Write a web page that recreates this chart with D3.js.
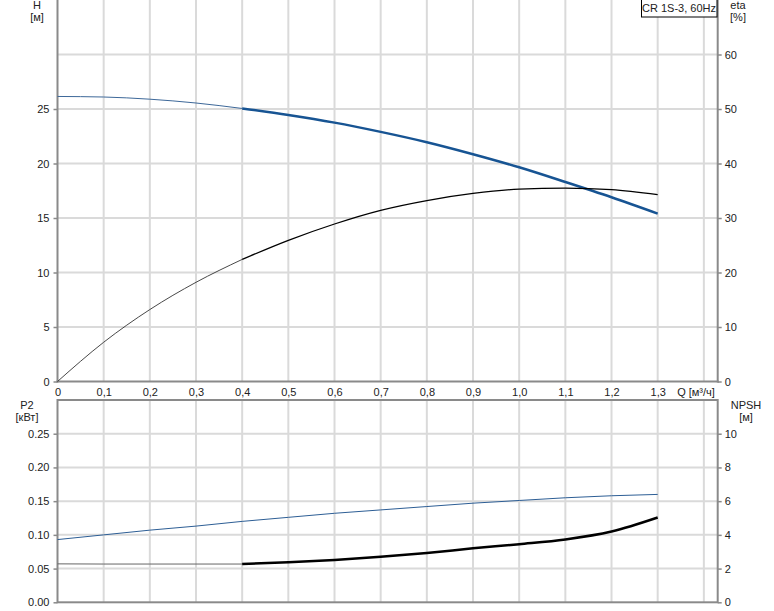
<!DOCTYPE html>
<html><head><meta charset="utf-8">
<script src="https://cdn.jsdelivr.net/npm/d3@7"></script>
<style>body{margin:0;background:#fff}svg{display:block;font-family:"Liberation Sans",Arial,sans-serif}</style>
</head><body><svg id="c" width="774" height="611"></svg>
<script>
// data
const flowQ = [0,0.1,0.2,0.3,0.4,0.5,0.6,0.7,0.8,0.9,1.0,1.1,1.2,1.3];
const headH = [26.15,26.1,25.9,25.55,25.05,24.45,23.75,22.9,21.95,20.85,19.65,18.3,16.9,15.4];
const effEta = [0,7.2,13.2,18.2,22.4,25.9,28.9,31.4,33.2,34.5,35.3,35.5,35.2,34.3];
const powerP2 = [0.093,0.1,0.107,0.113,0.12,0.126,0.132,0.137,0.142,0.147,0.151,0.155,0.158,0.16];
const npshR = [2.28,2.27,2.27,2.27,2.27,2.37,2.51,2.7,2.93,3.2,3.45,3.73,4.2,5.03];
const xTicks = [0,0.1,0.2,0.3,0.4,0.5,0.6,0.7,0.8,0.9,1.0,1.1,1.2,1.3];
const xGrid = [0.1,0.2,0.3,0.4,0.5,0.6,0.7,0.8,0.9,1.0,1.1,1.2,1.3,1.4];
const hTicks = [0,5,10,15,20,25];
const hGrid = [5,10,15,20,25,30];
const etaTicks = [0,10,20,30,40,50,60];
const p2Ticks = [0,0.05,0.10,0.15,0.20,0.25];
const npshTicks = [0,2,4,6,8,10];
const opStart = 0.4;
const title = "CR 1S-3, 60Hz";

const svg = d3.select("#c");
const L = 57.5, R = 717.7;
const x = d3.scaleLinear().domain([0,1.43]).range([L,R]);
const yH = d3.scaleLinear().domain([0,35]).range([381.5,0]);
const yE = d3.scaleLinear().domain([0,70]).range([381.5,0]);
const yP = d3.scaleLinear().domain([0,0.30]).range([602.3,400]);
const yN = d3.scaleLinear().domain([0,12]).range([602.3,400]);
const txt = "#222", grid = "#dadada", axc = "#8a8a8a";

// gridlines
const g = svg.append("g");
xGrid.forEach(q=>{
  g.append("line").attr("x1",x(q)).attr("x2",x(q)).attr("y1",0).attr("y2",381.5).attr("stroke",grid).attr("stroke-width",2);
  g.append("line").attr("x1",x(q)).attr("x2",x(q)).attr("y1",400).attr("y2",602.3).attr("stroke",grid).attr("stroke-width",2);
});
hGrid.forEach(v=>g.append("line").attr("x1",L).attr("x2",R).attr("y1",yH(v)).attr("y2",yH(v)).attr("stroke",grid).attr("stroke-width",2));
p2Ticks.slice(1).forEach(v=>g.append("line").attr("x1",L).attr("x2",R).attr("y1",yP(v)).attr("y2",yP(v)).attr("stroke",grid).attr("stroke-width",2));

// axes
function styleAxis(sel){
  sel.select(".domain").remove();
  sel.selectAll(".tick line").attr("stroke",axc).attr("stroke-width",1.5);
  sel.selectAll(".tick text").attr("fill",txt).attr("font-size",11).attr("font-family","Liberation Sans, Arial, sans-serif");
}
svg.append("g").attr("transform",`translate(${L},0)`).call(d3.axisLeft(yH).tickValues(hTicks).tickSize(4).tickPadding(4).tickFormat(d3.format("d"))).call(styleAxis);
svg.append("g").attr("transform",`translate(${R},0)`).call(d3.axisRight(yE).tickValues(etaTicks).tickSize(4).tickPadding(3).tickFormat(d3.format("d"))).call(styleAxis);
svg.append("g").attr("transform",`translate(${L},0)`).call(d3.axisLeft(yP).tickValues(p2Ticks).tickSize(4).tickPadding(4).tickFormat(d3.format(".2f"))).call(styleAxis);
svg.append("g").attr("transform",`translate(${R},0)`).call(d3.axisRight(yN).tickValues(npshTicks).tickSize(4).tickPadding(3).tickFormat(d3.format("d"))).call(styleAxis);
const xa = svg.append("g").attr("transform",`translate(0,381.5)`).call(d3.axisBottom(x).tickValues(xTicks).tickSize(0).tickPadding(7).tickFormat(d=>d3.format(".1f")(d).replace(".",",").replace(/^0,0$/,"0")));
styleAxis(xa);

// axis lines
const a = svg.append("g").attr("stroke",axc).attr("stroke-width",2);
a.append("line").attr("x1",L).attr("x2",L).attr("y1",0).attr("y2",382.5);
a.append("line").attr("x1",R).attr("x2",R).attr("y1",0).attr("y2",382.5);
a.append("line").attr("x1",L-1).attr("x2",R+1).attr("y1",381.5).attr("y2",381.5);
a.append("rect").attr("x",L).attr("y",400).attr("width",R-L).attr("height",202.3).attr("fill","none");

// labels
function t(s,xx,yy,anchor){svg.append("text").attr("x",xx).attr("y",yy).attr("text-anchor",anchor||"middle").attr("dominant-baseline","central").attr("font-size",11).attr("fill",txt).text(s);}
t("H",37,5); t("[м]",37,17);
t("eta",738,5); t("[%]",738,17);
t("P2",27,405); t("[кВт]",27,417);
t("NPSH",746,405); t("[м]",746,417);
t("Q [м³/ч]",696,392);

// legend box
svg.append("rect").attr("x",641.5).attr("y",-0.5).attr("width",75.5).attr("height",17.5).attr("fill","#fff").attr("stroke","#000").attr("stroke-width",1);
t(title,679,8);

// curves
function draw(vals, ys, thinColor, thinW, thickColor, thickW){
  const pts = flowQ.map((q,i)=>({q,v:vals[i]}));
  const line = d3.line().x(d=>x(d.q)).y(d=>ys(d.v)).curve(d3.curveMonotoneX);
  svg.append("path").attr("d",line(pts.filter(d=>d.q<=opStart))).attr("fill","none").attr("stroke",thinColor).attr("stroke-width",thinW);
  svg.append("path").attr("d",line(pts.filter(d=>d.q>=opStart))).attr("fill","none").attr("stroke",thickColor).attr("stroke-width",thickW);
}
draw(headH, yH, "#3d6899", 1, "#175493", 2.5);
draw(effEta, yE, "#333", 0.9, "#000", 1.3);
draw(powerP2, yP, "#2d5e95", 1, "#2d5e95", 1);
draw(npshR, yN, "#666", 1, "#000", 2.5);
</script></body></html>
